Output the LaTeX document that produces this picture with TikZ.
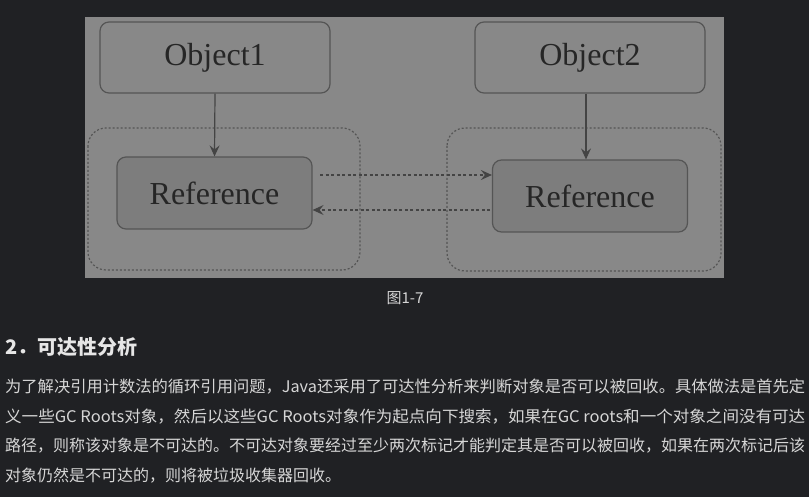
\documentclass[tikz,border=0pt]{standalone}
\usepackage{fontspec}
\usepackage{graphicx}
\usepackage{tikz}
\usetikzlibrary{arrows.meta,positioning}
\newfontfamily\serifen{Liberation Serif}
\newfontfamily\cjk{Noto Sans CJK SC}
\definecolor{page}{HTML}{202124}
\definecolor{panel}{HTML}{888888}
\definecolor{refgrey}{HTML}{7D7D7D}
\definecolor{edge}{HTML}{555555}
\definecolor{bodytext}{HTML}{D6D6D6}
\definecolor{headtext}{HTML}{E6E6E6}
\newcommand{\parline}[1]{\setbox0=\hbox{#1}\pgfmathsetmacro\linescale{800/\the\wd0}\scalebox{\linescale}[1]{\box0}}
\tikzset{>=Stealth,objbox/.style={draw=edge,line width=1.2pt,rounded corners=9pt,fill=panel,minimum width=230pt,minimum height=71pt,font=\serifen\fontsize{32}{36}\selectfont,text=black!85},refbox/.style={objbox,fill=refgrey,minimum width=195pt,minimum height=72pt},group/.style={draw=edge,line width=1.2pt,dash pattern=on 2pt off 2pt,rounded corners=18pt},arr/.style={->,line width=1.2pt,draw=edge!80!black,arrows={-Stealth[length=11pt,width=10pt,inset=4pt]}},darr/.style={arr,dash pattern=on 3pt off 2.5pt},para/.style={anchor=west,text=bodytext,font=\cjk\fontsize{16}{18}\selectfont,inner sep=0pt}}

\begin{document}
\begin{tikzpicture}[x=1pt,y=-1pt]
\useasboundingbox[fill=page] (0,0) rectangle (809,497);
\fill[panel] (85,17) rectangle (724,278);
% groups round the references
\draw[group] (88,128) rectangle (360,270);
\draw[group] (447,128) rectangle (721,271);
\node[objbox] (obj1) at (215,57.5) {Object1};
\node[objbox] (obj2) at (590,57.5) {Object2};
\node[refbox] (ref1) at (214.5,193) {Reference};
\node[refbox] (ref2) at (590,196) {Reference};
\coordinate (r1a) at (320,175);\coordinate (r2a) at (490,210);
\draw[arr] (obj1.south) -- (ref1.north);
\draw[arr] (obj2.south -| 586,0) -- (ref2.north -| 586,0);
\draw[darr] (r1a) -- (r1a -| ref2.west);
\draw[darr] (r2a) -- (r2a -| ref1.east);
\node[text=bodytext,font=\cjk\fontsize{15}{18}\selectfont] (cap) at (405,298) {图1-7};
\node[anchor=west,text=headtext,font=\cjk\bfseries\fontsize{20}{24}\selectfont,inner sep=0pt] (head) at (5,347) {2．可达性分析};
\node[para] (l1) at (5,387) {\parline{为了解决引用计数法的循环引用问题，Java还采用了可达性分析来判断对象是否可以被回收。具体做法是首先定}};
\node[para] (l2) at (5,417) {\parline{义一些GC Roots对象，然后以这些GC Roots对象作为起点向下搜索，如果在GC roots和一个对象之间没有可达}};
\node[para] (l3) at (5,446) {\parline{路径，则称该对象是不可达的。不可达对象要经过至少两次标记才能判定其是否可以被回收，如果在两次标记后该}};
\node[para] (l4) at (5,476) {对象仍然是不可达的，则将被垃圾收集器回收。};
\end{tikzpicture}
\end{document}
